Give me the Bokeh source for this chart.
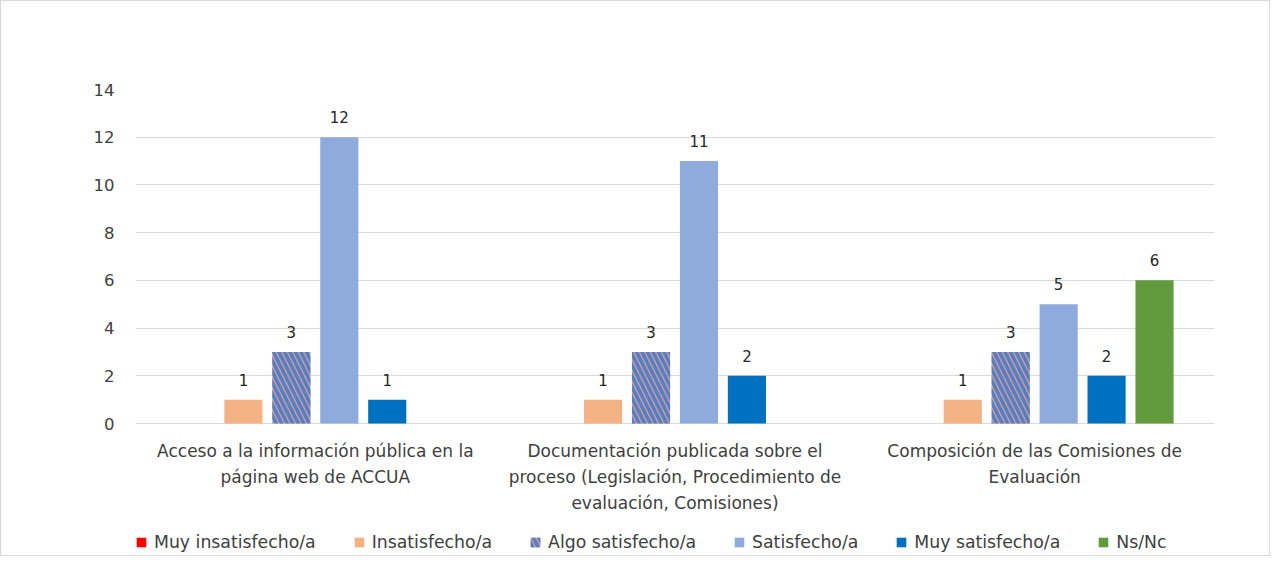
from bokeh.plotting import figure
from bokeh.models import ColumnDataSource, FactorRange, Legend, LegendItem, Range1d, FixedTicker
from bokeh.core.properties import value
from bokeh.transform import dodge
from bokeh.embed import file_html
from bokeh.resources import INLINE

categories = [
    "Acceso a la información pública en la\npágina web de ACCUA",
    "Documentación publicada sobre el\nproceso (Legislación, Procedimiento de\nevaluación, Comisiones)",
    "Composición de las Comisiones de\nEvaluación",
]
series_names = ["Muy insatisfecho/a", "Insatisfecho/a", "Algo satisfecho/a",
                "Satisfecho/a", "Muy satisfecho/a", "Ns/Nc"]
muy_insatisfecho = [0, 0, 0]
insatisfecho = [1, 1, 1]
algo_satisfecho = [3, 3, 3]
satisfecho = [12, 11, 5]
muy_satisfecho = [1, 2, 2]
ns_nc = [0, 0, 6]
y_ticks = [0, 2, 4, 6, 8, 10, 12, 14]

series_values = [muy_insatisfecho, insatisfecho, algo_satisfecho, satisfecho, muy_satisfecho, ns_nc]
colors = ["#FF0000", "#F4B183", "#D99594", "#8FAADC", "#0070C0", "#619B3D"]

FONT = "DejaVu Sans"

# frame extends below the zero line so that category labels and legend sit inside it
FRAME_H = 466
Y_MAX = 14
Y_MIN = -Y_MAX * (FRAME_H - 334) / 334

p = figure(x_range=FactorRange(factors=categories, range_padding=0),
           y_range=Range1d(Y_MIN, Y_MAX),
           frame_width=1079, frame_height=FRAME_H, output_backend="svg", toolbar_location=None,
           min_border_left=134, min_border_right=55, min_border_top=88, min_border_bottom=0)
p.styles = {"border": "1px solid #D9D9D9"}
p.outline_line_color = None

step = 0.1333
bw = 0.106
items = []
for i, (name, vals, col) in enumerate(zip(series_names, series_values, colors)):
    off = (i - 2.5) * step
    src = ColumnDataSource(dict(cat=categories, v=vals))
    kw = {}
    if name == "Algo satisfecho/a":
        kw = dict(hatch_pattern="\\", hatch_color="#4F81C9", hatch_weight=3.5, hatch_scale=11)
    r = p.vbar(x=dodge("cat", off, range=p.x_range), top="v", bottom=0, width=bw, source=src,
               fill_color=col, line_color=None, **kw)
    items.append(LegendItem(label=name, renderers=[r]))
    nz = [(c, v) for c, v in zip(categories, vals) if v != 0]
    lsrc = ColumnDataSource(dict(cat=[c for c, _ in nz], v=[v for _, v in nz],
                                 t=[str(v) for _, v in nz]))
    p.text(x=dodge("cat", off, range=p.x_range), y="v", text="t", source=lsrc,
           text_align="center", text_baseline="bottom", y_offset=-14,
           text_font_size="15px", text_color="#262626", text_font=value(FONT))

# category labels under the zero line
csrc = ColumnDataSource(dict(cat=categories, y=[0] * len(categories), t=categories))
p.text(x="cat", y="y", text="t", source=csrc, text_align="center", text_baseline="top",
       y_offset=17, text_font_size="17px", text_color="#404040", text_font=value(FONT),
       text_line_height=1.3)

p.yaxis.ticker = FixedTicker(ticks=y_ticks)
p.yaxis.axis_line_color = None
p.yaxis.major_tick_line_color = None
p.yaxis.minor_tick_line_color = None
p.yaxis.major_label_text_font = FONT
p.yaxis.major_label_text_font_size = "16.5px"
p.yaxis.major_label_text_color = "#404040"
p.yaxis.major_label_standoff = 15

p.xaxis.visible = False

p.xgrid.grid_line_color = None
p.ygrid.grid_line_color = "#D9D9D9"
p.ygrid.grid_line_width = 1

legend = Legend(items=items, orientation="horizontal", location=(0, 3),
                label_text_font=FONT, label_text_font_size="17.3px", label_text_color="#404040",
                glyph_width=12, glyph_height=12, label_standoff=7, spacing=37,
                border_line_color=None, background_fill_alpha=0, padding=0, margin=0)
p.add_layout(legend, "center")

open("out.html", "w").write(file_html(p, INLINE))
